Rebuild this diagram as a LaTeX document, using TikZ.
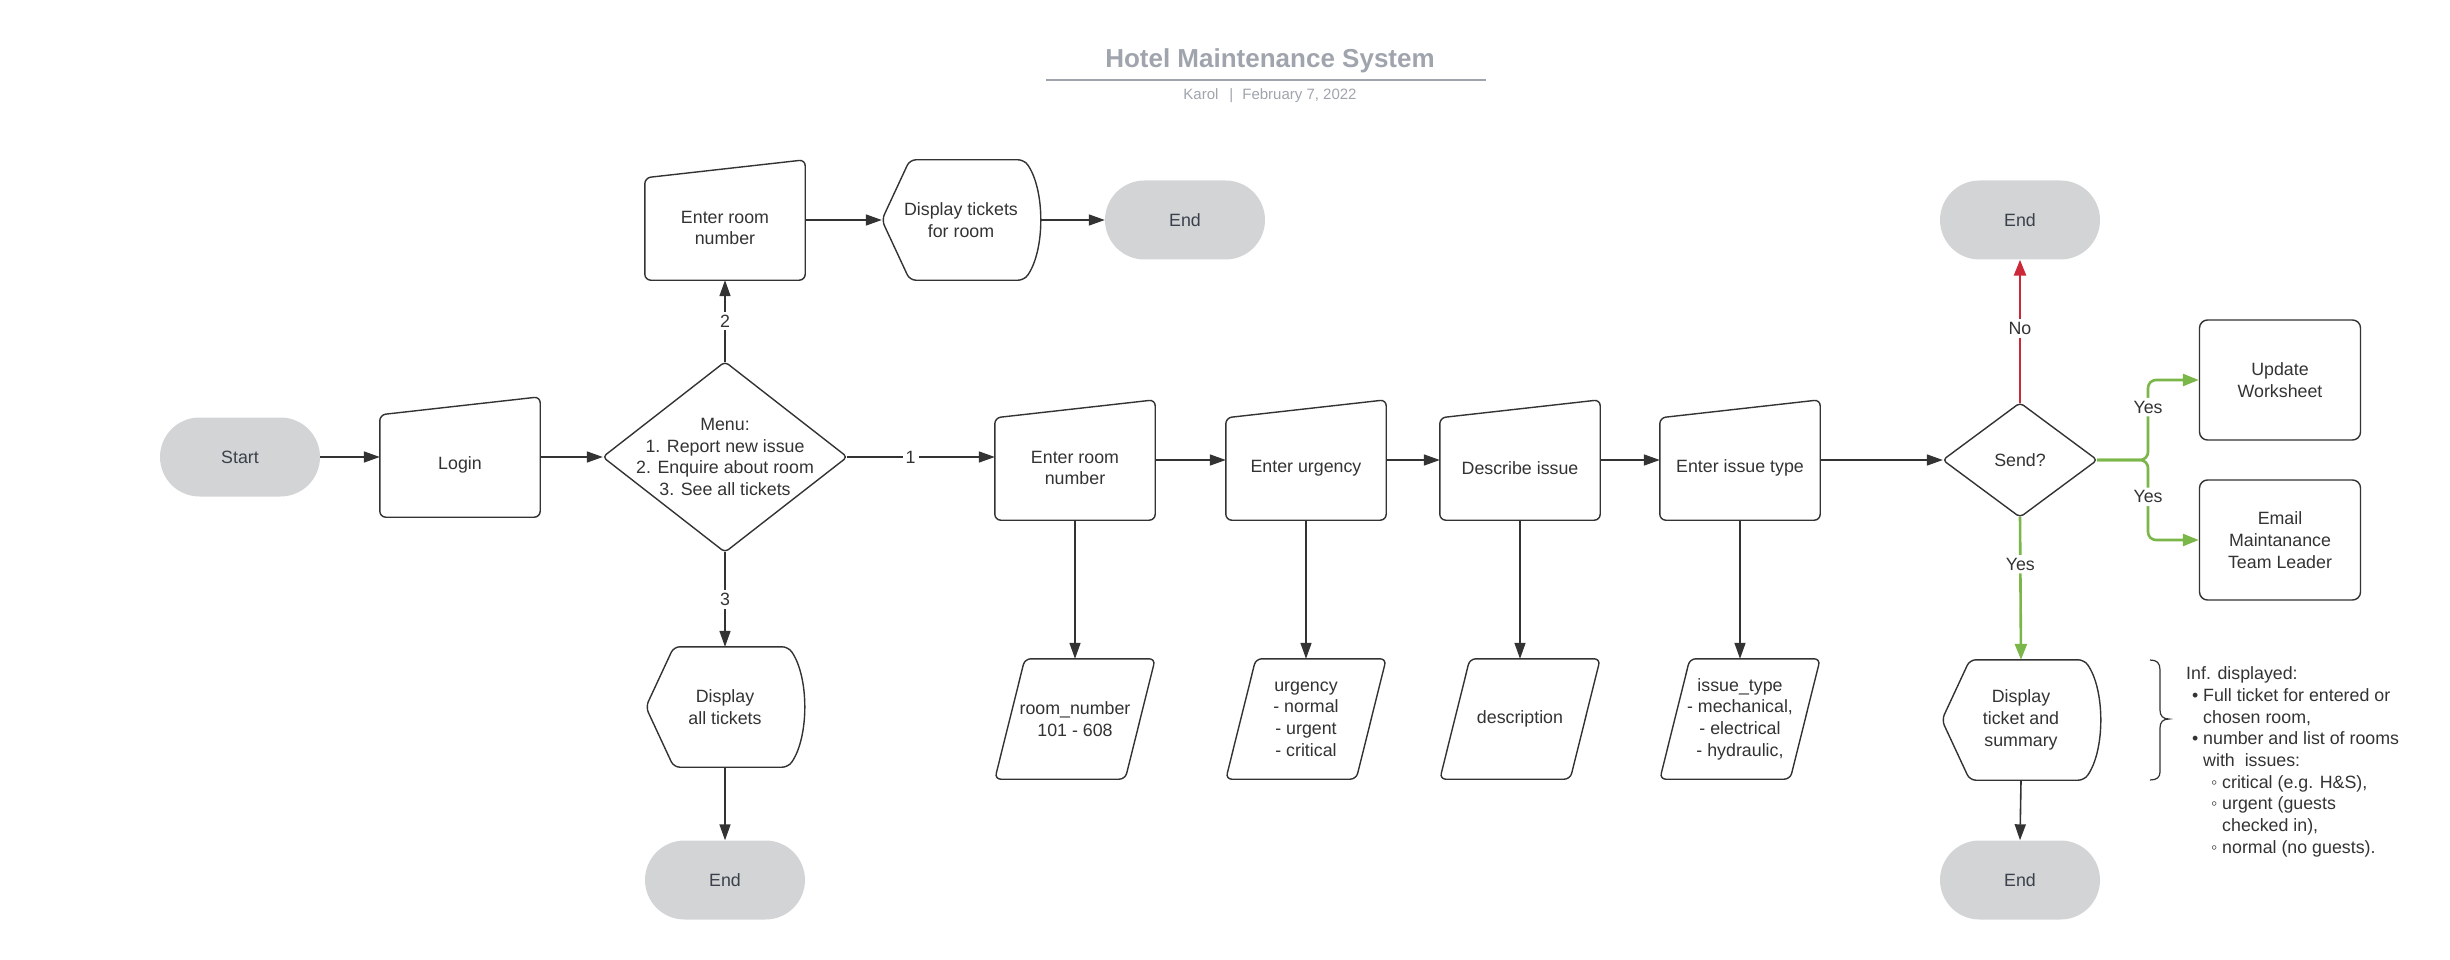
\documentclass[tikz,border=0pt]{standalone}
\usepackage{fontspec}
\setmainfont{Liberation Sans}
\usetikzlibrary{arrows.meta,calc}
\definecolor{ln}{RGB}{51,51,51}
\definecolor{tx}{RGB}{51,51,51}
\definecolor{termfill}{RGB}{211,212,214}
\definecolor{termtx}{RGB}{58,65,74}
\definecolor{ttl}{RGB}{160,164,172}
\definecolor{grn}{RGB}{122,182,72}
\definecolor{rdd}{RGB}{204,40,56}

% manual input: name, centre x, bottom y, text
\newcommand\myinput[4]{%
  \node[inv] (#1) at (#2,#3-60) {};
  \path[shp] (#1.south west) -- ([yshift=-18pt]#1.north west) -- (#1.north east) -- (#1.south east) -- cycle;
  \node[align=center] (#1-txt) at ([yshift=-8pt]#1.center) {#4};
}
% display: name, cx, cy, text
\newcommand\mydisp[4]{%
  \node[inv,minimum width=158pt] (#1) at (#2,#3) {};
  \path[shp] (#1.west) -- ([xshift=28pt]#1.north west) -- ([xshift=-16pt]#1.north east)
     .. controls ([xshift=5pt,yshift=-30pt]#1.north east) and ([xshift=5pt,yshift=30pt]#1.south east) .. ([xshift=-16pt]#1.south east)
     -- ([xshift=28pt]#1.south west) -- cycle;
  \node[align=center] (#1-txt) at (#1.center) {#4};
}
% data: name, cx, cy, text
\newcommand\mydata[4]{%
  \node[inv] (#1) at (#2,#3) {};
  \path[shp] ([xshift=30pt]#1.north west) -- (#1.north east) -- ([xshift=-30pt]#1.south east) -- (#1.south west) -- cycle;
  \node[align=center] (#1-txt) at (#1.center) {#4};
}
% decision: name, cx, cy, w, h, text
\newcommand\mydiam[6]{%
  \node[inv,minimum width=#4pt,minimum height=#5pt] (#1) at (#2,#3) {};
  \path[shp,rounded corners=4pt] (#1.west) -- (#1.north) -- (#1.east) -- (#1.south) -- cycle;
  \node[align=center] (#1-txt) at (#1.center) {#6};
}

\begin{document}
\begin{tikzpicture}[x=1pt,y=-1pt,
  every node/.style={font=\fontsize{17.8}{21.7}\selectfont, text=tx},
  inv/.style={draw=none, inner sep=0pt, minimum width=160pt, minimum height=120pt},
  shp/.style={draw=ln, line width=1.4pt, rounded corners=6pt, fill=white},
  conn/.style={draw=ln, line width=1.6pt, -{Triangle[length=16pt,width=11pt]}},
  gconn/.style={draw=grn, line width=2.6pt, rounded corners=8pt, -{Triangle[length=16pt,width=12pt]}},
  rconn/.style={draw=rdd, line width=2.6pt, -{Triangle[length=16pt,width=12pt]}},
  terminal/.style={fill=termfill, rounded corners=39.5pt, minimum width=160pt, minimum height=79pt, inner sep=0pt, text=termtx},
  box/.style={draw=ln, line width=1.4pt, rounded corners=8pt, minimum width=161pt, minimum height=120pt, align=center},
  lbl/.style={fill=white, inner sep=3pt},
  info/.style={anchor=base west, inner sep=0pt}
]
\useasboundingbox (0,0) rectangle (2450,960);

% title
\node[font=\bfseries\fontsize{26}{30}\selectfont, text=ttl, anchor=base] (title) at (1270,68) {Hotel Maintenance System};
\draw[ttl, line width=2pt] (1046,80) -- (1486,80);
\node[font=\fontsize{15}{18}\selectfont, text=ttl, anchor=base] (sub) at (1270,100) {Karol\hspace{11pt}|\hspace{9pt}February 7, 2022};

% terminals
\node[terminal] (start) at (240,457) {Start};
\node[terminal] (endA) at (1185,220) {End};
\node[terminal] (endB) at (725,880) {End};
\node[terminal] (endC) at (2020,220) {End};
\node[terminal] (endD) at (2020,880) {End};

% manual inputs
\myinput{login}{460}{517}{Login}
\myinput{ertop}{725}{280}{Enter room\\number}
\myinput{ermid}{1075}{520}{Enter room\\number}
\myinput{eurg}{1306}{520}{Enter urgency}
\myinput{desc}{1520}{520}{Describe issue}
\myinput{etype}{1740}{520}{Enter issue type}

% displays
\mydisp{dtroom}{961}{220}{Display tickets\\for room}
\mydisp{dall}{725}{707}{Display\\all tickets}
\mydisp{dsum}{2021}{720}{Display\\ticket and\\summary}

% data
\mydata{rnum}{1075}{719}{room\_number\\101 - 608}
\mydata{urgd}{1306}{719}{urgency\\- normal\\- urgent\\- critical}
\mydata{descd}{1520}{719}{description}
\mydata{itype}{1740}{719}{issue\_type\\- mechanical,\\- electrical\\- hydraulic,}

% decisions
\mydiam{menu}{725}{457}{244}{190}{Menu:\\1. Report new issue\\2. Enquire about room\\3. See all tickets}
\mydiam{send}{2020}{460}{154}{114}{Send?}

% process boxes
\node[box] (uw) at (2280,380) {Update\\Worksheet};
\node[box] (em) at (2280,540) {Email\\Maintanance\\Team Leader};

% connectors
\draw[conn] (start.east) -- (login.west);
\draw[conn] (login.east) -- (menu.west);
\draw[conn] (menu.north) -- node[lbl]{2} (ertop.south);
\draw[conn] (ertop.east) -- (dtroom.west);
\draw[conn] (dtroom.east) -- (endA.west);
\draw[conn] (menu.south) -- node[lbl]{3} (dall.north);
\draw[conn] (dall.south) -- (endB.north);
\draw[conn] (menu.east) -- node[lbl,pos=0.43]{1} (menu.east -| ermid.west);
\draw[conn] (ermid.east) -- (eurg.west);
\draw[conn] (eurg.east) -- (desc.west);
\draw[conn] (desc.east) -- (etype.west);
\draw[conn] (etype.east) -- (send.west);
\draw[conn] (ermid.south) -- (rnum.north);
\draw[conn] (eurg.south) -- (urgd.north);
\draw[conn] (desc.south) -- (descd.north);
\draw[conn] (etype.south) -- (itype.north);

\draw[rconn] (send.north) -- node[lbl,pos=0.52]{No} (endC.south);
\coordinate (br) at (2148,460);
\draw[gconn] (send.east) -- (br) |- node[lbl,pos=0.33]{Yes} (uw.west);
\draw[gconn] (send.east) -- (br) |- node[lbl,pos=0.23]{Yes} (em.west);
\draw[gconn] (send.south) -- node[lbl,pos=0.33]{Yes} (dsum.north);
\draw[conn] (dsum.south) -- (endD.north);

% brace and info text
\draw[ln, line width=1.2pt] (2150,660) .. controls (2157,660) and (2160,663) .. (2160,670) -- (2160,710)
   .. controls (2160,716) and (2163,719) .. (2169,719)
   .. controls (2163,719) and (2160,722) .. (2160,728) -- (2160,772)
   .. controls (2160,777) and (2157,780) .. (2150,780);

\node[info] (inf1) at (2186,679) {Inf. displayed:};
\node[info] (inf2) at (2192,701) {\makebox[11pt][l]{•}Full ticket for entered or};
\node[info] (inf3) at (2203,723) {chosen room,};
\node[info] (inf4) at (2192,744) {\makebox[11pt][l]{•}number and list of rooms};
\node[info] (inf5) at (2203,766) {with\ \ issues:};
\node[info] (inf6) at (2211,788) {\makebox[11pt][l]{◦}critical (e.g. H\&S),};
\node[info] (inf7) at (2211,809) {\makebox[11pt][l]{◦}urgent (guests};
\node[info] (inf8) at (2222,831) {checked in),};
\node[info] (inf9) at (2211,853) {\makebox[11pt][l]{◦}normal (no guests).};
\end{tikzpicture}
\end{document}
